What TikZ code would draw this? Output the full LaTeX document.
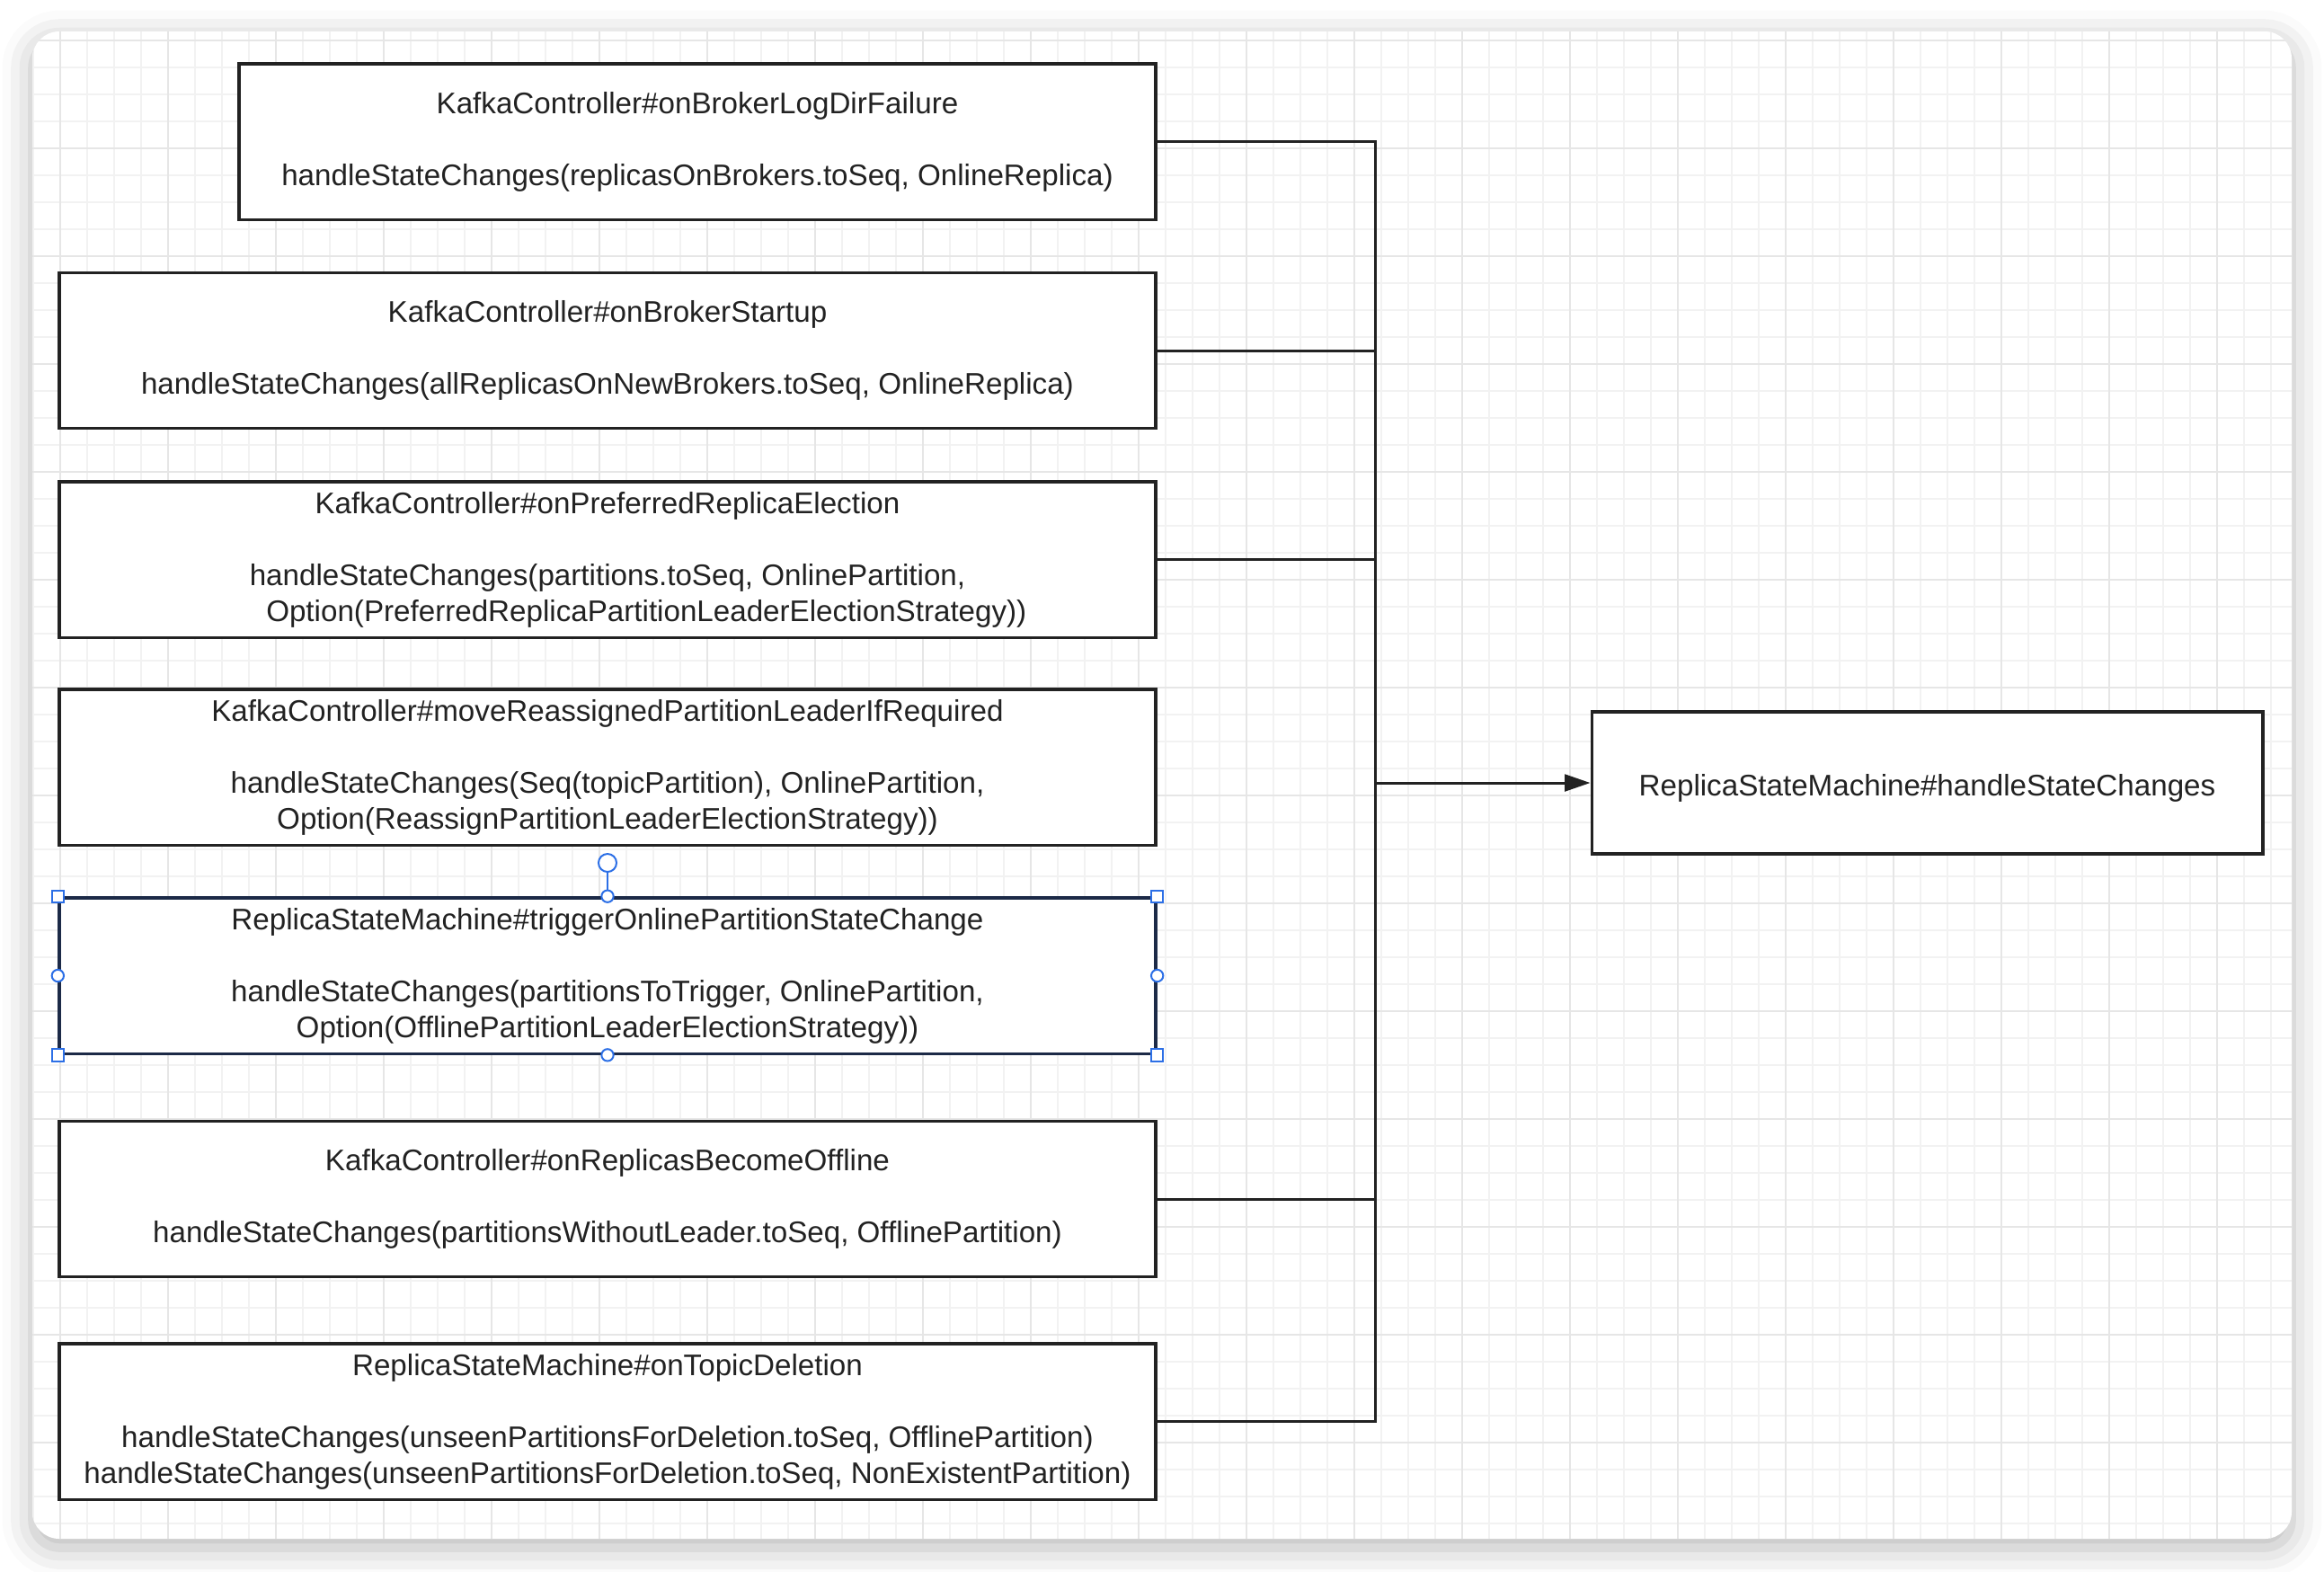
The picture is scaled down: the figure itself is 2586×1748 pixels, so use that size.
\documentclass[tikz,border=0pt]{standalone}
\usepackage{fontspec}
\setmainfont{Liberation Sans}
\usetikzlibrary{arrows.meta,shadows.blur}

\definecolor{gridminor}{HTML}{F2F2F2}
\definecolor{gridmajor}{HTML}{E6E6E6}
\definecolor{boxline}{HTML}{222222}
\definecolor{selline}{HTML}{1C2A47}
\definecolor{selblue}{HTML}{2C6FE6}

\tikzset{
  callbox/.style={rectangle, draw=boxline, line width=1pt, fill=white, align=center, text=boxline,
    minimum width=366pt, minimum height=52pt, inner sep=0pt, font=\fontsize{9.95}{12}\selectfont,
    execute at begin node=\rule{0pt}{10.5pt}},
  link/.style={draw=boxline, line width=0.9pt},
  handlesq/.style={rectangle, draw=selblue, fill=white, line width=0.6pt, minimum size=4pt, inner sep=0pt},
  handledot/.style={circle, draw=selblue, fill=white, line width=0.6pt, minimum size=4pt, inner sep=0pt}
}

\begin{document}
\begin{tikzpicture}[x=0.3pt, y=-0.3pt, >={Triangle[length=8.5pt,width=5.6pt]}]
    \useasboundingbox (0,0) rectangle (2586,1748);

    % canvas
    \fill[white, rounded corners=9pt, blur shadow={shadow xshift=0pt, shadow yshift=-3pt, shadow blur radius=10pt, shadow opacity=28}] (36,35) rectangle (2550,1712);
    \begin{scope}
        \clip[rounded corners=9pt] (36,35) rectangle (2550,1712);
        \foreach \gx in {6.7,36.7,...,2580} \draw[gridminor, line width=0.6pt] (\gx,35) -- (\gx,1712);
        \foreach \gy in {15,45,...,1740} \draw[gridminor, line width=0.6pt] (36,\gy) -- (2550,\gy);
        \foreach \gx in {66.7,186.7,...,2580} \draw[gridmajor, line width=0.7pt] (\gx,35) -- (\gx,1712);
        \foreach \gy in {45,165,...,1740} \draw[gridmajor, line width=0.7pt] (36,\gy) -- (2550,\gy);
    \end{scope}

    % callers
    \node[callbox, minimum width=306pt] (logdir) at (776,157.5) {KafkaController\#onBrokerLogDirFailure\\[12pt]handleStateChanges(replicasOnBrokers.toSeq, OnlineReplica)};
    \node[callbox] (startup) at (676,390) {KafkaController\#onBrokerStartup\\[12pt]handleStateChanges(allReplicasOnNewBrokers.toSeq, OnlineReplica)};
    \node[callbox] (preferred) at (676,622.5) {KafkaController\#onPreferredReplicaElection\\[12pt]handleStateChanges(partitions.toSeq, OnlinePartition,\\\hspace*{26pt}Option(PreferredReplicaPartitionLeaderElectionStrategy))};
    \node[callbox] (reassign) at (676,853.5) {KafkaController\#moveReassignedPartitionLeaderIfRequired\\[12pt]handleStateChanges(Seq(topicPartition), OnlinePartition,\\Option(ReassignPartitionLeaderElectionStrategy))};
    \node[callbox, draw=selline] (trigger) at (676,1085.5) {ReplicaStateMachine\#triggerOnlinePartitionStateChange\\[12pt]handleStateChanges(partitionsToTrigger, OnlinePartition,\\Option(OfflinePartitionLeaderElectionStrategy))};
    \node[callbox] (offline) at (676,1334) {KafkaController\#onReplicasBecomeOffline\\[12pt]handleStateChanges(partitionsWithoutLeader.toSeq, OfflinePartition)};
    \node[callbox] (deletion) at (676,1581.5) {ReplicaStateMachine\#onTopicDeletion\\[12pt]handleStateChanges(unseenPartitionsForDeletion.toSeq, OfflinePartition)\\handleStateChanges(unseenPartitionsForDeletion.toSeq, NonExistentPartition)};

    % target
    \node[callbox, minimum width=224pt, minimum height=47.4pt] (handle) at (2144.5,871) {ReplicaStateMachine\#handleStateChanges};

    % bus
    \coordinate (bus) at (1530,871);
    \foreach \src in {logdir,startup,preferred,offline,deletion}
        \draw[link] (\src.east) -| (bus);
    \draw[link, ->] (bus) -- (handle.west);

    % selection handles
    \foreach \a/\n in {north west/1, north east/2, south west/3, south east/4}
        \node[handlesq] (sq\n) at (trigger.\a) {};
    \foreach \a/\n in {north/1, south/2, west/3, east/4}
        \node[handledot] (dot\n) at (trigger.\a) {};
    \node[handledot, minimum size=6pt] (rotate) at (676,960) {};
    \draw[selblue, line width=0.6pt] (rotate) -- (dot1);
\end{tikzpicture}
\end{document}
